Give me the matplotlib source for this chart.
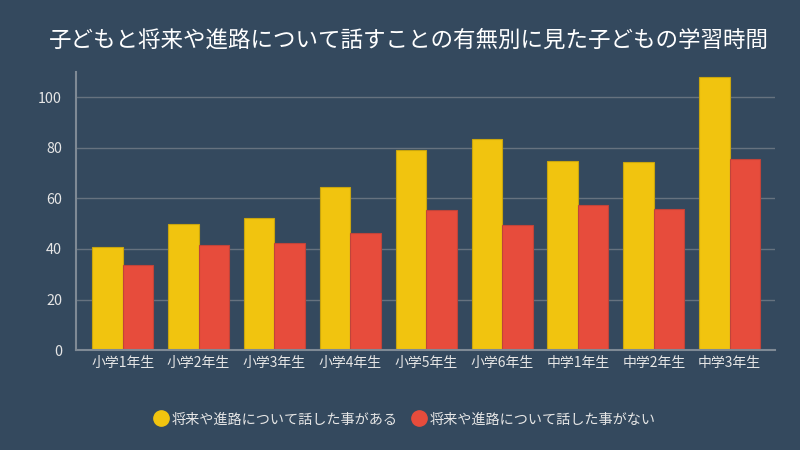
import matplotlib
matplotlib.use("Agg")
import matplotlib.pyplot as plt
import numpy as np
from matplotlib.lines import Line2D

plt.rcParams['font.family'] = ['Noto Sans CJK JP', 'DejaVu Sans']

categories = ["小学1年生", "小学2年生", "小学3年生", "小学4年生", "小学5年生",
              "小学6年生", "中学1年生", "中学2年生", "中学3年生"]
talked = [40.9, 49.8, 52.1, 64.4, 79.0, 83.6, 74.8, 74.5, 107.9]
not_talked = [33.8, 41.6, 42.3, 46.2, 55.4, 49.5, 57.5, 56.0, 75.4]
series_names = ["将来や進路について話した事がある", "将来や進路について話した事がない"]
title = "子どもと将来や進路について話すことの有無別に見た子どもの学習時間"
yticks = [0, 20, 40, 60, 80, 100]

bg = "#34495e"
yellow = "#f1c40f"
red = "#e74c3c"

fig = plt.figure(figsize=(8, 4.5), dpi=100, facecolor=bg)
ax = fig.add_axes([0.095, 0.222, 0.874, 0.618])
ax.set_facecolor(bg)

x = np.arange(len(categories))
w = 0.402
ax.bar(x - w/2, talked, width=w, color=yellow, edgecolor="#c9a50e", linewidth=0.8, zorder=3)
ax.bar(x + w/2, not_talked, width=w, color=red, edgecolor="#c0443a", linewidth=0.8, zorder=3)

ax.set_xlim(-0.616, 8.6)
ax.set_ylim(0, 110)
ax.set_yticks(yticks)
ax.set_xticks(x)
ax.set_xticklabels(categories)
ax.tick_params(axis='both', length=0, colors="#e6e6e6", labelsize=10)
ax.tick_params(axis='y', pad=10, labelsize=10.3)
ax.tick_params(axis='x', pad=4)
ax.grid(axis='y', color="#66727f", linewidth=1, zorder=0)
for s in ["top", "right"]:
    ax.spines[s].set_visible(False)
for s in ["left", "bottom"]:
    ax.spines[s].set_color("#7f8a95")
    ax.spines[s].set_linewidth(1.5)
    ax.spines[s].set_zorder(4)

fig.text(0.511, 0.91, title, ha='center', va='center', color="white", fontsize=16.2)

handles = [Line2D([], [], marker='o', linestyle='none', markersize=11,
                  markerfacecolor=c, markeredgecolor=c) for c in (yellow, red)]
leg = fig.legend(handles, series_names, loc='center', bbox_to_anchor=(0.505, 0.068),
                 ncol=2, frameon=False, fontsize=10.2, handletextpad=0.15,
                 columnspacing=0.9, handlelength=1.2)
for t in leg.get_texts():
    t.set_color("#e6e6e6")

fig.savefig("out.png", dpi=100, facecolor=bg)
